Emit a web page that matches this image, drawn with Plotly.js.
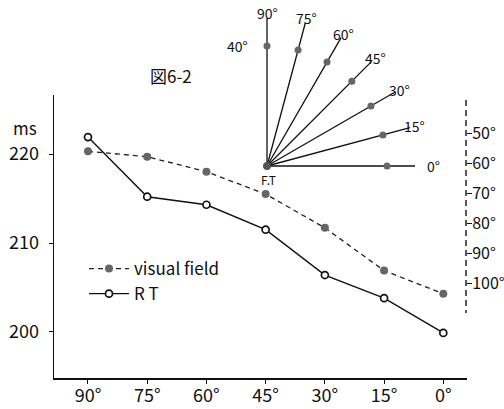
<!DOCTYPE html>
<html><head><meta charset="utf-8">
<script src="https://cdn.plot.ly/plotly-3.0.1.min.js"></script>
<style>html,body{margin:0;padding:0;background:#fff}</style>
</head><body><div id="chart" style="width:504px;height:409px"></div>
<script>
// ---- data ----
const categories = ["90°", "75°", "60°", "45°", "30°", "15°", "0°"];
const visualField = [220.3, 219.7, 218.0, 215.5, 211.7, 206.9, 204.3];
const reactionTime = [221.9, 215.2, 214.3, 211.5, 206.4, 203.8, 199.9];
const yTicks = [200, 210, 220];
const fieldAngles = [90, 75, 60, 45, 30, 15, 0];
const angleLabels = ["90°", "75°", "60°", "45°", "30°", "15°", "0°"];
const rightTicks = [50, 60, 70, 80, 90, 100];
const rightTickLabels = ["50°", "60°", "70°", "80°", "90°", "100°"];
const seriesNames = ["visual field", "R T"];

// ---- inset geometry (units of the inset axes) ----
const rayLength = 148, dotRadius = 120, labelRadius = 153;
const rad = a => a * Math.PI / 180;
const rayX = [], rayY = [];
fieldAngles.forEach(a => {
  rayX.push(0, rayLength * Math.cos(rad(a)), null);
  rayY.push(0, rayLength * Math.sin(rad(a)), null);
});
const dotX = fieldAngles.map(a => dotRadius * Math.cos(rad(a)));
const dotY = fieldAngles.map(a => dotRadius * Math.sin(rad(a)));

const W = 504, H = 409;
const FONT = '"Noto Sans CJK JP", "Noto Sans", sans-serif';
const px = v => v / W, py = v => 1 - v / H;

const traces = [
  {x: categories, y: visualField, name: seriesNames[0], type: 'scatter', mode: 'lines+markers',
   line: {color: '#222', width: 1.3, dash: '5px,4px'},
   marker: {color: '#666', size: 8}, xaxis: 'x', yaxis: 'y'},
  {x: categories, y: reactionTime, name: seriesNames[1], type: 'scatter', mode: 'lines+markers',
   line: {color: '#111', width: 1.4},
   marker: {color: '#fff', size: 7, line: {color: '#111', width: 1.7}}, xaxis: 'x', yaxis: 'y'},
  {x: rayX, y: rayY, type: 'scatter', mode: 'lines', line: {color: '#111', width: 1.3},
   showlegend: false, hoverinfo: 'skip', xaxis: 'x2', yaxis: 'y2'},
  {x: dotX, y: dotY, type: 'scatter', mode: 'markers', marker: {color: '#666', size: 7},
   showlegend: false, hoverinfo: 'skip', xaxis: 'x2', yaxis: 'y2'},
  {x: [0], y: [0], type: 'scatter', mode: 'markers', marker: {color: '#555', size: 8},
   showlegend: false, hoverinfo: 'skip', xaxis: 'x2', yaxis: 'y2'},
  {x: [0, 0], y: [rightTicks[0], rightTicks[rightTicks.length - 1]], type: 'scatter', mode: 'markers',
   marker: {opacity: 0}, showlegend: false, hoverinfo: 'skip', xaxis: 'x3', yaxis: 'y3'}
];

const ann = (text, xref, yref, x, y, size) => ({text, xref, yref, x, y,
  xanchor: 'center', yanchor: 'middle', showarrow: false,
  font: {size, family: FONT, color: '#111'}});

const annotations = [
  ann('図6-2', 'paper', 'paper', px(171), py(75), 17),
  ann('ms', 'paper', 'paper', px(25), py(127), 17),
  ann('F.T', 'x2', 'y2', 1, -13, 12),
  ann('40°', 'x2', 'y2', -30, 120, 14)
];
fieldAngles.forEach((a, i) => {
  annotations.push(ann(angleLabels[i], 'x2', 'y2',
    labelRadius * Math.cos(rad(a)) + (a === 0 ? 13 : 0), labelRadius * Math.sin(rad(a)), 14));
});

const layout = {
  width: W, height: H,
  margin: {l: 0, r: 0, t: 0, b: 0},
  paper_bgcolor: '#fff', plot_bgcolor: 'rgba(0,0,0,0)',
  font: {family: FONT, color: '#111'},
  showlegend: true,
  legend: {x: px(84), y: py(251), xanchor: 'left', yanchor: 'top',
    font: {size: 17, family: FONT, color: '#111'}, bgcolor: 'rgba(0,0,0,0)', itemwidth: 40},
  xaxis: {type: 'category', domain: [px(54), px(467)], range: [-0.574, 6.40],
    showline: true, linecolor: '#111', linewidth: 1.5, ticks: 'outside', ticklen: 4,
    tickcolor: '#111', tickfont: {size: 18, family: FONT, color: '#111'},
    showgrid: false, zeroline: false, anchor: 'y', ticklabelstandoff: -3},
  yaxis: {domain: [py(378), py(95)], range: [194.83, 226.63], tickvals: yTicks,
    showline: true, linecolor: '#111', linewidth: 1.5, ticks: 'outside', ticklen: 4,
    tickcolor: '#111', tickfont: {size: 18, family: FONT, color: '#111'},
    showgrid: false, zeroline: false, anchor: 'x', ticklabelstandoff: 6},
  xaxis2: {domain: [px(222), px(437)], range: [-45, 170], visible: false, anchor: 'y2'},
  yaxis2: {domain: [py(186), py(0)], range: [-20, 166], visible: false, anchor: 'x2'},
  xaxis3: {domain: [px(440), px(466)], visible: false, anchor: 'y3'},
  yaxis3: {domain: [py(313), py(100)], range: [110, 39], tickmode: 'array',
    tickvals: rightTicks, ticktext: rightTickLabels,
    side: 'right', anchor: 'x3', showline: false, showgrid: false,
    zeroline: false, ticks: 'outside', ticklen: 5, tickcolor: '#111', ticklabelstandoff: -3,
    tickfont: {size: 16, family: FONT, color: '#111'}},
  shapes: [{type: 'line', xref: 'paper', yref: 'y3', x0: px(466), x1: px(466), y0: 39, y1: 110,
    line: {color: '#111', width: 1.4, dash: '6px,4px'}}],
  annotations: annotations
};

Plotly.newPlot('chart', traces, layout, {displayModeBar: false, staticPlot: true});
</script></body></html>
